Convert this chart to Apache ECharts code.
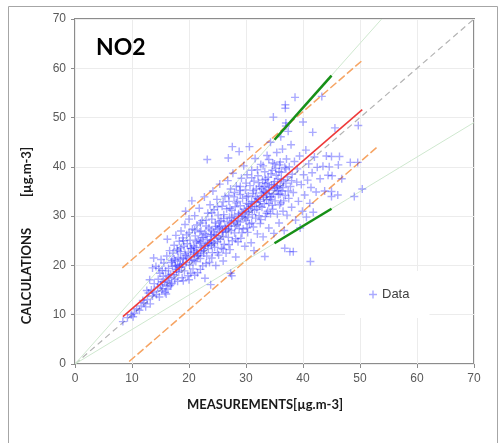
<!DOCTYPE html>
<html>
<head>
<meta charset="utf-8">
<script src="https://cdn.jsdelivr.net/npm/echarts@6/dist/echarts.min.js"></script>
<style>html,body{margin:0;padding:0;background:#fff;}#c{width:502px;height:443px;}</style>
</head>
<body>
<div id="c"></div>
<script>
const xTicks = [0, 10, 20, 30, 40, 50, 60, 70];
const yTicks = [0, 10, 20, 30, 40, 50, 60, 70];

const identityLine = [[0, 0], [70, 70]];
const upperFactorLine = [[0, 0], [53.8, 70]];
const lowerFactorLine = [[0, 0], [70, 49]];
const upperFactorSeg = [[35, 45.5], [45, 58.5]];
const lowerFactorSeg = [[35, 24.5], [45, 31.5]];
const upperOffsetLine = [[8.3, 19.5], [50.6, 61.8]];
const lowerOffsetLine = [[9.5, 0.5], [53, 44]];
const regressionLine = [[8.4, 9.6], [50.4, 51.6]];

const dataPoints = [
[8.4,8.6],[9.2,9.4],[9.9,10.0],[10.4,10.3],[10.8,11.2],[11.3,10.9],[11.6,11.8],[12.1,12.4],[12.4,11.6],[11.9,12.9],[10.2,9.6],
[12.7,13.1],[12.9,14.4],[13.2,12.2],[13.4,15.0],[13.6,13.8],[13.8,14.6],[13.9,16.3],[13.6,19.5],[13.8,21.5],[14.2,19.8],[13.1,17.1],[12.6,14.9],
[14.3,14.1],[14.5,15.6],[14.6,17.2],[14.8,13.6],[14.9,18.4],[15.0,16.1],[15.2,14.8],[15.3,19.0],[15.4,15.3],[15.5,17.8],[15.6,20.5],[15.7,16.6],[15.8,14.5],[15.9,18.9],[16.0,15.8],[16.1,21.9],[16.2,16.9],[16.3,15.2],[16.4,19.4],[16.5,17.5],[16.6,23.0],[16.7,15.9],[16.8,18.2],[16.9,20.6],[15.1,21.2],[14.7,19.4],[16.2,25.3],[16.0,14.2],
[17.0,16.4],[17.1,19.8],[17.2,22.5],[17.3,18.1],[17.4,24.1],[17.5,17.2],[17.6,20.9],[17.7,26.1],[17.8,19.2],[17.9,23.3],[18.0,16.8],[18.1,21.6],[18.2,18.6],[18.3,24.9],[18.4,20.2],[18.5,22.8],[18.6,27.0],[18.7,19.7],[18.8,17.5],[18.9,25.6],[19.0,21.4],[19.1,23.9],[19.2,18.9],[19.3,28.3],[19.4,22.0],[19.4,31.0],[19.5,20.6],[19.6,26.2],[19.7,24.4],[19.8,17.9],[19.9,22.7],[20.0,29.4],[17.4,21.3],[18.6,23.6],[19.0,16.9],[18.0,20.0],
[20.1,20.1],[20.2,25.1],[20.3,18.4],[20.4,23.4],[20.5,33.1],[20.5,21.1],[20.6,27.4],[20.7,19.3],[20.8,24.0],[20.9,22.3],[21.0,30.1],[21.1,26.0],[21.2,20.8],[21.3,23.1],[21.4,28.2],[21.5,18.5],[21.6,25.1],[21.7,22.0],[21.8,31.6],[21.9,24.5],[22.0,21.4],[22.1,27.0],[22.2,23.6],[22.3,29.1],[22.4,19.9],[22.5,25.7],[22.6,22.5],[22.7,33.9],[22.8,17.4],[22.8,26.5],[22.9,24.1],[23.0,28.0],[21.0,23.7],[21.5,21.9],[22.0,24.8],[22.5,23.0],[20.8,22.7],[21.9,26.8],
[23.1,21.9],[23.2,41.5],[23.2,25.2],[23.3,30.6],[23.4,23.4],[23.5,27.6],[23.6,20.6],[23.7,32.3],[23.8,16.1],[23.8,25.9],[23.9,24.1],[24.0,29.4],[24.1,22.6],[24.2,35.1],[24.3,26.8],[24.4,31.3],[24.5,23.7],[24.6,28.6],[24.7,20.0],[24.8,26.1],[24.9,33.4],[25.0,24.8],[25.1,30.2],[25.2,22.1],[25.3,27.7],[25.4,36.5],[25.5,25.3],[25.6,29.1],[25.7,23.5],[25.8,32.0],[25.9,27.0],[26.0,20.9],[24.0,25.0],[24.5,26.2],[25.0,27.4],[25.5,28.0],[23.6,24.6],[26.0,25.9],
[26.1,30.3],[26.2,24.3],[26.3,34.0],[26.4,27.5],[26.5,22.5],[26.6,31.5],[26.7,28.9],[26.8,37.2],[26.9,41.8],[26.9,25.7],[27.0,33.0],[27.1,29.8],[27.2,23.2],[27.3,18.4],[27.5,17.9],[27.3,35.5],[27.4,27.1],[27.5,31.2],[27.6,44.1],[27.6,25.0],[27.7,38.7],[27.8,29.1],[27.9,33.9],[28.0,26.6],[28.1,31.9],[28.2,21.7],[28.3,36.1],[28.4,28.3],[28.5,33.0],[28.6,24.8],[28.7,30.5],[28.8,43.1],[28.8,27.5],[28.9,35.2],[29.0,32.1],[27.0,28.0],[27.5,29.6],[28.0,30.2],[28.5,29.0],[29.0,28.8],[26.5,26.8],
[29.1,25.5],[29.2,37.7],[29.3,30.0],[29.4,33.6],[29.5,27.4],[29.6,40.2],[29.7,31.4],[29.8,23.9],[29.9,35.3],[30.0,29.2],[30.1,32.6],[30.2,38.4],[30.3,26.7],[30.4,34.1],[30.5,30.8],[30.6,44.1],[30.6,28.4],[30.7,36.2],[30.8,32.0],[30.9,24.6],[31.0,39.3],[31.1,30.3],[31.2,34.6],[31.3,27.8],[31.4,23.0],[31.4,37.1],[31.5,32.9],[31.6,41.7],[31.7,29.6],[31.8,35.5],[31.9,31.4],[32.0,26.4],[29.5,30.5],[30.0,31.0],[30.5,32.4],[31.0,33.0],[31.5,31.2],[32.0,33.6],[30.3,29.8],[31.7,34.0],
[32.1,38.2],[32.2,33.4],[32.3,30.1],[32.4,36.0],[32.5,28.5],[32.6,40.5],[32.7,34.7],[32.8,31.8],[32.9,37.3],[33.0,25.8],[33.1,35.0],[33.2,32.5],[33.3,21.8],[33.3,39.0],[33.4,29.9],[33.5,36.6],[33.6,33.3],[33.7,42.3],[33.8,31.0],[33.9,37.9],[34.0,27.6],[34.1,35.8],[34.2,33.9],[34.3,45.0],[34.3,30.5],[34.4,38.6],[34.5,36.3],[34.6,32.2],[34.7,40.8],[34.8,50.1],[34.8,34.5],[34.9,26.5],[35.0,37.0],[32.5,33.0],[33.0,34.2],[33.5,34.8],[34.0,35.3],[34.5,34.0],[35.0,35.8],[33.2,36.0],[34.0,32.6],[32.8,35.6],[33.8,36.8],
[35.1,33.1],[35.2,39.7],[35.3,35.6],[35.4,42.9],[35.5,30.4],[35.6,37.6],[35.7,34.4],[35.8,28.6],[35.9,40.4],[36.0,36.2],[36.1,46.1],[36.1,32.7],[36.2,38.9],[36.3,35.1],[36.4,43.6],[36.5,31.0],[36.6,37.1],[36.7,27.1],[36.8,23.5],[36.8,39.9],[36.9,52.6],[36.9,51.9],[36.9,34.2],[37.0,48.9],[37.0,48.3],[37.0,36.7],[37.1,41.6],[37.2,30.2],[37.3,38.0],[37.4,47.2],[37.5,33.6],[37.6,40.0],[37.7,22.8],[37.8,36.0],[37.9,44.5],[38.0,31.8],[38.1,38.5],[38.3,22.8],[38.3,34.8],[38.5,41.1],[38.6,54.1],[38.7,29.2],[38.9,36.9],[35.5,36.0],[36.0,34.5],[36.5,35.8],[35.3,38.3],
[39.0,39.6],[39.2,33.0],[39.4,42.2],[39.5,27.6],[39.7,36.4],[39.9,31.0],[40.0,49.1],[40.1,38.4],[40.3,34.3],[40.5,43.4],[40.6,29.8],[40.8,37.3],[41.0,40.6],[41.2,32.6],[41.3,20.8],[41.4,35.8],[41.6,38.8],[41.7,47.0],[41.8,30.8],[42.0,42.0],[42.3,34.9],[42.5,39.9],
[43.0,37.6],[43.3,54.3],[43.5,40.1],[43.8,35.1],[44.1,42.2],[44.4,38.3],[44.6,40.0],[45.0,42.1],[45.0,35.0],[45.0,34.0],[45.1,38.2],[45.6,47.9],[46.1,34.3],[46.2,40.4],[46.4,42.1],[46.8,37.6],[48.3,40.9],[49.0,34.0],[49.6,40.9],[49.7,48.4],[50.4,35.5],
[15.3,16.7],[16.4,17.9],[16.9,16.2],[17.8,18.8],[18.3,19.6],[18.9,20.3],[19.6,21.5],[20.3,21.8],[20.9,21.0],[21.4,22.5],[22.1,22.9],[22.7,23.9],[23.3,24.4],[23.9,26.3],[24.4,24.5],[25.1,25.6],[25.8,26.7],[26.3,27.9],[26.9,27.4],[27.4,28.6],[28.1,28.0],[28.7,29.9],[29.2,30.8],[29.8,29.6],[30.4,31.6],[31.1,31.9],[31.8,32.8],[32.4,32.0],[33.1,33.8],[33.7,34.5],[34.3,33.4],[34.9,36.4],[35.6,35.2],[36.2,37.4],[30.1,33.9],[31.3,35.2],[32.2,36.8],[33.4,37.5],[34.6,39.3],[35.8,39.0],[29.0,34.4],[28.3,32.7],[27.2,31.6],[26.1,29.5],[25.3,28.9],[24.7,27.9],[23.9,27.2],[23.0,26.2],[22.3,25.6],[21.3,24.8],[20.3,23.5],[19.3,22.4],[18.5,21.2],[17.6,19.9],[32.6,29.3],[33.6,30.6],[34.7,31.4],[35.9,32.3],[31.0,28.6],[30.2,27.6],[29.3,26.6],[28.2,25.4],[27.0,24.2],[26.0,23.3],[25.0,22.6],[24.0,21.5],[23.0,20.4],[22.0,19.2],[21.0,18.0],[20.0,17.1],[36.6,33.1],[37.4,35.1],[38.0,37.2],[37.0,39.6],[36.0,41.0],[35.0,40.6],[34.0,41.5],[33.0,40.2],[32.0,39.4],[31.0,37.8],[30.0,36.7],[29.0,36.0],[28.0,34.8],[27.0,34.2],[26.0,32.9],[25.0,31.9],[24.0,30.7],[23.0,29.2],[22.0,28.6],[21.0,27.2],[20.0,26.6],[19.0,25.0],[18.0,23.0],[17.0,21.0]
];

const plusPath = 'path://M3.3,0H4.7V3.3H8V4.7H4.7V8H3.3V4.7H0V3.3H3.3Z';

const chart = echarts.init(document.getElementById('c'), null, {renderer: 'canvas'});

function lineSeries(data, color, width, type, z) {
  return {
    type: 'line', data: data, symbol: 'none', silent: true, z: z,
    lineStyle: {color: color, width: width, type: type},
    animation: false
  };
}

chart.setOption({
  animation: false,
  backgroundColor: '#fff',
  grid: {left: 75, right: 28, top: 19, bottom: 79, show: true, borderColor: '#8c8c8c', borderWidth: 2, backgroundColor: 'transparent'},
  xAxis: {
    type: 'value', min: xTicks[0], max: xTicks[xTicks.length - 1], interval: 10,
    axisLine: {show: false},
    axisTick: {show: true, length: 4, lineStyle: {color: '#8c8c8c'}},
    axisLabel: {color: '#595959', fontSize: 12, fontFamily: 'Liberation Sans', margin: 9},
    splitLine: {show: true, lineStyle: {color: '#ececec', width: 1}}
  },
  yAxis: {
    type: 'value', min: yTicks[0], max: yTicks[yTicks.length - 1], interval: 10,
    axisLine: {show: false},
    axisTick: {show: true, length: 4, lineStyle: {color: '#8c8c8c'}},
    axisLabel: {color: '#595959', fontSize: 12, fontFamily: 'Liberation Sans', margin: 9},
    splitLine: {show: true, lineStyle: {color: '#ececec', width: 1}}
  },
  legend: {
    data: ['Data'], left: 345, top: 271, orient: 'vertical',
    padding: [17, 20, 17, 24], backgroundColor: '#fff',
    itemWidth: 8, itemHeight: 8, itemGap: 4,
    textStyle: {color: '#404040', fontSize: 13, fontFamily: 'Liberation Sans'}
  },
  graphic: [
    {type: 'rect', shape: {x: 8.5, y: 6.5, width: 489, height: 460}, style: {fill: 'none', stroke: '#a6a6a6', lineWidth: 1}, silent: true, z: -10},
    {type: 'text', left: 96, top: 36, style: {text: 'NO2', font: 'bold 23px Lato', fill: '#000'}},
    {type: 'text', x: 265, y: 405, style: {text: 'MEASUREMENTS[µg.m-3]', font: 'bold 13px Lato', fill: '#1a1a1a', align: 'center', verticalAlign: 'middle'}},
    {type: 'text', x: 27, y: 276, rotation: Math.PI / 2, style: {text: 'CALCULATIONS', font: 'bold 13px Lato', fill: '#1a1a1a', align: 'center', verticalAlign: 'middle'}},
    {type: 'text', x: 27, y: 172, rotation: Math.PI / 2, style: {text: '[µg.m-3]', font: 'bold 13px Lato', fill: '#1a1a1a', align: 'center', verticalAlign: 'middle'}}
  ],
  series: [
    lineSeries(identityLine, '#b3b3b3', 1.2, [6, 4], 1),
    lineSeries(upperFactorLine, '#cfe8cf', 1, 'solid', 1),
    lineSeries(lowerFactorLine, '#cfe8cf', 1, 'solid', 1),
    lineSeries(upperOffsetLine, '#f6a463', 1.5, [8, 3], 2),
    lineSeries(lowerOffsetLine, '#f6a463', 1.5, [8, 3], 2),
    {
      name: 'Data', type: 'scatter', data: dataPoints, symbol: plusPath, symbolSize: 8, z: 3,
      itemStyle: {color: 'rgba(25,25,255,0.46)'}, silent: true
    },
    lineSeries(regressionLine, '#ee3a3a', 1.6, 'solid', 4),
    lineSeries(upperFactorSeg, '#179017', 2.6, 'solid', 5),
    lineSeries(lowerFactorSeg, '#179017', 2.6, 'solid', 5)
  ]
});
</script>
</body>
</html>
